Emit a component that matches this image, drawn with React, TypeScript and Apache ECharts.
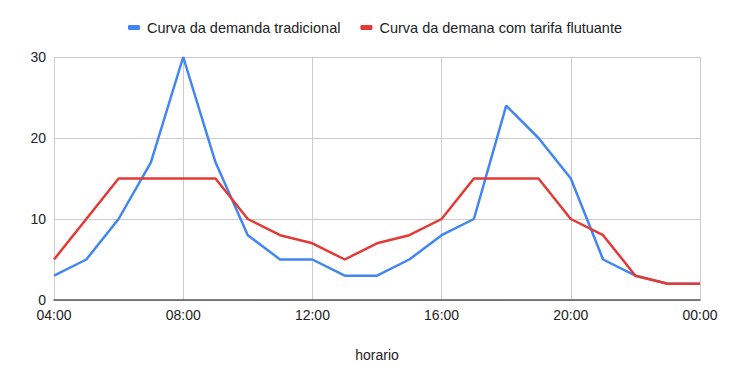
import React, { useEffect, useRef } from "react";
import * as echarts from "echarts";

const hours = [4, 5, 6, 7, 8, 9, 10, 11, 12, 13, 14, 15, 16, 17, 18, 19, 20, 21, 22, 23, 24];
const tradicional = [3, 5, 10, 17, 30, 17, 8, 5, 5, 3, 3, 5, 8, 10, 24, 20, 15, 5, 3, 2, 2];
const flutuante = [5, 10, 15, 15, 15, 15, 10, 8, 7, 5, 7, 8, 10, 15, 15, 15, 10, 8, 3, 2, 2];
const seriesNames = ["Curva da demanda tradicional", "Curva da demana com tarifa flutuante"];
const xTitle = "horario";

const fmtHour = (v: number) => {
  const h = Math.round(v) % 24;
  return (h < 10 ? "0" : "") + h + ":00";
};

export default function App() {
  const ref = useRef<HTMLDivElement>(null);
  useEffect(() => {
    if (!ref.current) return;
    const chart = echarts.init(ref.current, null, { renderer: "svg" });
    const font = "Liberation Sans, Arial, sans-serif";
    chart.setOption({
      animation: false,
      backgroundColor: "#ffffff",
      textStyle: { fontFamily: font },
      legend: {
        top: 15,
        left: "center",
        itemWidth: 12,
        itemHeight: 5,
        itemGap: 20,
        icon: "roundRect",
        textStyle: { fontSize: 14.5, color: "#222222", fontFamily: font, padding: [0, 0, 0, 2] },
        data: seriesNames,
      },
      grid: { left: 54, right: 50, top: 57, bottom: 74 },
      xAxis: {
        type: "value",
        min: 4,
        max: 24,
        interval: 4,
        name: xTitle,
        nameLocation: "middle",
        nameGap: 48,
        nameTextStyle: { fontSize: 14, color: "#222222", fontFamily: font },
        axisLine: { show: true, lineStyle: { color: "#555555", width: 1.5 } },
        axisTick: { show: false },
        axisLabel: {
          formatter: (v: number) => fmtHour(v),
          fontSize: 14,
          lineHeight: 13,
          color: "#222222",
          margin: 8,
          showMinLabel: true,
          showMaxLabel: true,
        },
        splitLine: { show: true, lineStyle: { color: "#cccccc", width: 1 } },
      },
      yAxis: {
        type: "value",
        min: 0,
        max: 30,
        interval: 10,
        axisLine: { show: false },
        axisTick: { show: false },
        axisLabel: { fontSize: 14, lineHeight: 12, color: "#222222", margin: 8 },
        splitLine: { show: true, lineStyle: { color: "#cccccc", width: 1 } },
      },
      series: [
        {
          name: seriesNames[0],
          type: "line",
          data: hours.map((h, i) => [h, tradicional[i]]),
          symbol: "none",
          lineStyle: { color: "#4285F4", width: 2.5 },
          itemStyle: { color: "#4285F4" },
          z: 2,
        },
        {
          name: seriesNames[1],
          type: "line",
          data: hours.map((h, i) => [h, flutuante[i]]),
          symbol: "none",
          lineStyle: { color: "#E53935", width: 2.5 },
          itemStyle: { color: "#E53935" },
          z: 3,
        },
      ],
    });
    return () => chart.dispose();
  }, []);
  return <div ref={ref} style={{ width: 750, height: 374, position: "absolute", left: 0, top: 0 }} />;
}
